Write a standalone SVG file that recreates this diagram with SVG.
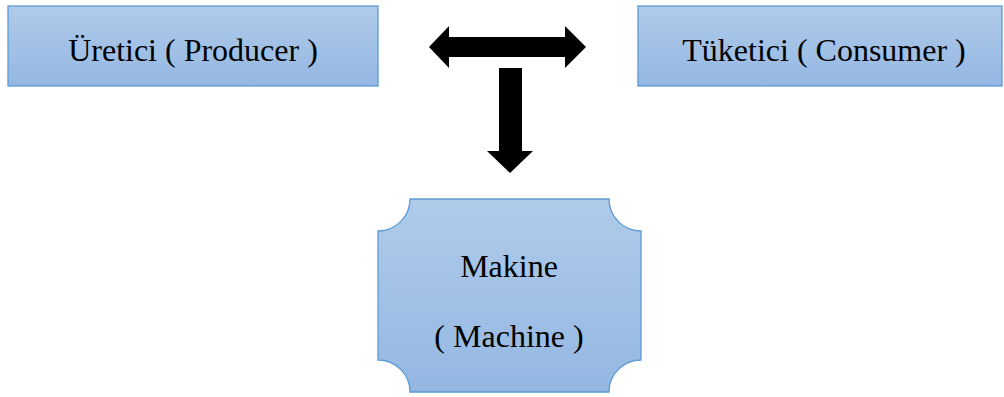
<svg xmlns="http://www.w3.org/2000/svg" width="1004" height="397" viewBox="0 0 1004 397">
<defs>
<linearGradient id="g" x1="0" y1="0" x2="0" y2="1">
<stop offset="0" stop-color="#b0cbea"/>
<stop offset="1" stop-color="#94b7e2"/>
</linearGradient>
<style>
.box{fill:url(#g);stroke:#5b9bd5;stroke-width:1.3}
.t{font-family:'Liberation Serif','Times New Roman',serif;font-size:32px;fill:#000;text-anchor:middle}
.a{fill:#000}
</style>
</defs>
<g id="producer">
<rect class="box" x="8" y="6" width="370" height="80"/>
<text class="t" x="193" y="61">Üretici ( Producer )</text>
</g>
<g id="consumer">
<rect class="box" x="638" y="6" width="364" height="80"/>
<text class="t" x="824" y="61">Tüketici ( Consumer )</text>
</g>
<g id="machine">
<path class="box" d="M410,199 H609 A32,32 0 0 0 641,231 V360 A32,32 0 0 0 609,392 H410 A32,32 0 0 0 378,360 V231 A32,32 0 0 0 410,199 Z"/>
<text class="t" x="509" y="277">Makine</text>
<text class="t" x="509" y="347">( Machine )</text>
</g>
<g id="connectors">
<path class="a" d="M429,47 L449,26 V37 H565 V26 L586,47 L565,68 V57 H449 V68 Z"/>
<path class="a" d="M499,68 H522 V151 H533 L510,173 L487,151 H499 Z"/>
</g>
</svg>
